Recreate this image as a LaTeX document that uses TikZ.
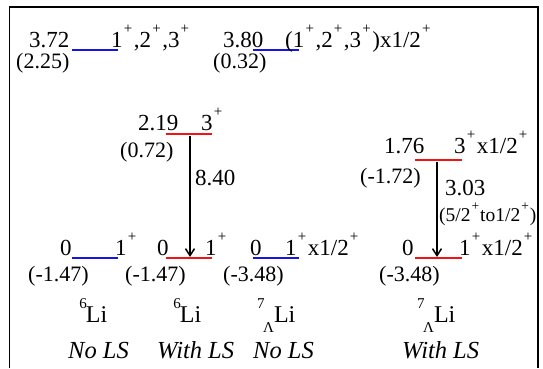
\documentclass[tikz,border=0pt]{standalone}
\usepackage{fontspec}
\setmainfont{Liberation Serif}
\usetikzlibrary{arrows.meta}
\newcommand{\spp}[1]{\hspace{1.2pt}\raisebox{14pt}{\fontsize{15}{15}\selectfont #1}\hspace{1.5pt}}
\newcommand{\sppsm}[1]{\hspace{1pt}\raisebox{11pt}{\fontsize{13.5}{13.5}\selectfont #1}\hspace{1pt}}
\newcommand{\lamsub}{\raisebox{-10pt}{\fontsize{15}{15}\selectfont Λ}}
\begin{document}
\begin{tikzpicture}[x=1pt,y=-1pt,
  txt/.style={anchor=base west, inner sep=0pt, font=\fontsize{23}{25}\selectfont},
  ptxt/.style={anchor=base west, inner sep=0pt, font=\fontsize{22}{24}\selectfont},
  smtxt/.style={anchor=base west, inner sep=0pt, font=\fontsize{19.5}{21}\selectfont},
  nuctxt/.style={anchor=base west, inner sep=0pt, font=\fontsize{24}{26}\selectfont},
  ittxt/.style={anchor=base west, inner sep=0pt, font=\fontsize{24.5}{26}\selectfont\itshape},
  lvblue/.style={draw={rgb,255:red,20;green,20;blue,230}, line width=2pt},
  lvred/.style={draw={rgb,255:red,240;green,20;blue,20}, line width=2pt},
  trans/.style={draw=black, line width=1.5pt, -{Straight Barb[length=7pt,width=9pt,line width=1.5pt]}},
  frame/.style={draw=black, line width=1.3pt}]
\useasboundingbox (0,0) rectangle (543,368);
% frame (open at the bottom)
\coordinate (fbl) at (9.5,368);
\coordinate (ftl) at (9.5,7);
\coordinate (ftr) at (538,7);
\coordinate (fbr) at (538,368);
\draw[frame] (fbl) -- (ftl) -- (ftr) -- (fbr);

% ---- top row (No LS excited) ----
\node[txt] (e372) at (29,47.5) {3.72};
\coordinate (l1a) at (72,50); \coordinate (l1b) at (118,50);
\draw[lvblue] (l1a) -- (l1b);
\node[txt] (j372) at (111,47.5) {1\spp{+},2\spp{+},3\spp{+}};
\node[ptxt] (b372) at (16,68) {(2.25)};

\node[txt] (e380) at (223,47.5) {3.80};
\coordinate (l2a) at (253,50); \coordinate (l2b) at (299,50);
\draw[lvblue] (l2a) -- (l2b);
\node[txt] (j380) at (285,47.5) {(1\spp{+},2\spp{+},3\spp{+})x1/2\spp{+}};
\node[ptxt] (b380) at (213,68) {(0.32)};

% ---- 6Li with LS excited ----
\node[txt] (e219) at (138,130) {2.19};
\coordinate (l3a) at (166,134); \coordinate (l3b) at (212,134);
\draw[lvred] (l3a) -- (l3b);
\node[txt] (j219) at (201,130) {3\spp{+}};
\node[ptxt] (b219) at (120,157) {(0.72)};
\coordinate (a1top) at (190,136);
\coordinate (a1bot) at (190,257);
\draw[trans] (a1top) -- (a1bot);
\node[txt] (t1) at (195,185) {8.40};

% ---- 7LLi with LS excited ----
\node[txt] (e176) at (384,153) {1.76};
\coordinate (l4a) at (415,160); \coordinate (l4b) at (462,160);
\draw[lvred] (l4a) -- (l4b);
\node[txt] (j176) at (454,153) {3\spp{+}x1/2\spp{+}};
\node[ptxt] (b176) at (360,183) {(-1.72)};
\coordinate (a2top) at (437,162);
\coordinate (a2bot) at (437,257);
\draw[trans] (a2top) -- (a2bot);
\node[txt] (t2) at (445,195) {3.03};
\node[smtxt] (t2b) at (439,221.5) {(5/2\sppsm{+}to1/2\sppsm{+})};

% ---- ground states ----
\node[txt] (g1) at (60,255) {0};
\coordinate (g1a) at (72,258); \coordinate (g1b) at (118,258);
\draw[lvblue] (g1a) -- (g1b);
\node[txt] (gj1) at (115,255) {1\spp{+}};
\node[ptxt] (gb1) at (28,281.5) {(-1.47)};

\node[txt] (g2) at (157,255) {0};
\coordinate (g2a) at (166,258); \coordinate (g2b) at (212,258);
\draw[lvred] (g2a) -- (g2b);
\node[txt] (gj2) at (205,255) {1\spp{+}};
\node[ptxt] (gb2) at (125,281.5) {(-1.47)};

\node[txt] (g3) at (250,255) {0};
\coordinate (g3a) at (253,258); \coordinate (g3b) at (299,258);
\draw[lvblue] (g3a) -- (g3b);
\node[txt] (gj3) at (285,255) {1\spp{+}x1/2\spp{+}};
\node[ptxt] (gb3) at (223,281.5) {(-3.48)};

\node[txt] (g4) at (402,255) {0};
\coordinate (g4a) at (415,258); \coordinate (g4b) at (462,258);
\draw[lvred] (g4a) -- (g4b);
\node[txt] (gj4) at (459,255) {1\spp{+}x1/2\spp{+}};
\node[ptxt] (gb4) at (379,281.5) {(-3.48)};

% ---- nucleus labels ----
\node[nuctxt] (n1) at (78,322) {\spp{6}\hspace{-2.5pt}Li};
\node[nuctxt] (n2) at (172,322) {\spp{6}\hspace{-2.5pt}Li};
\node[nuctxt] (n3) at (257,322) {\raisebox{14pt}{\fontsize{15}{15}\selectfont 7}\hspace{-1.5pt}\lamsub Li};
\node[nuctxt] (n4) at (417,322) {\raisebox{14pt}{\fontsize{15}{15}\selectfont 7}\hspace{-1.5pt}\lamsub Li};

\node[ittxt] (c1) at (68,358) {No LS};
\node[ittxt] (c2) at (157,358) {With LS};
\node[ittxt] (c3) at (253,358) {No LS};
\node[ittxt] (c4) at (402,358) {With LS};
\end{tikzpicture}
\end{document}
